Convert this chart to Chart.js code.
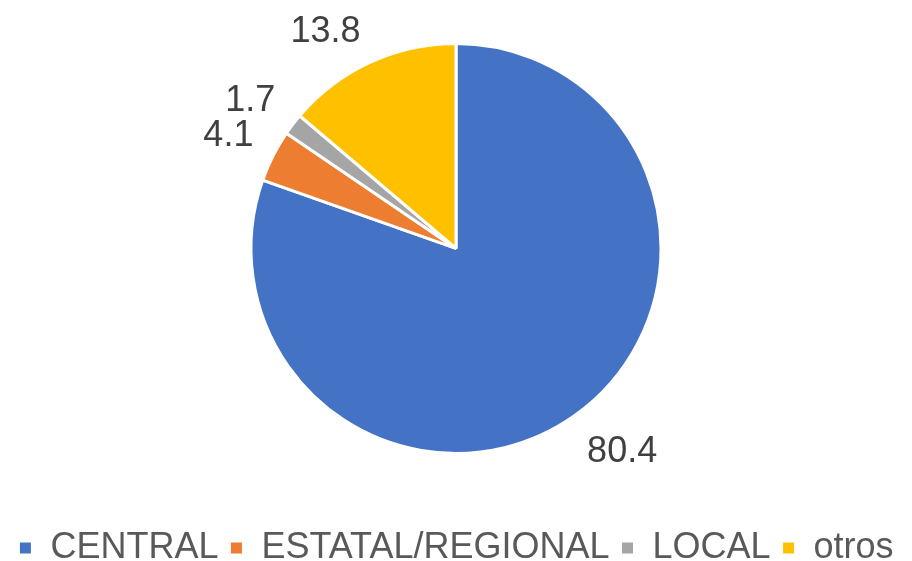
<!DOCTYPE html>
<html>
<head>
<meta charset="utf-8">
<script src="https://cdn.jsdelivr.net/npm/chart.js@4.4.1/dist/chart.umd.min.js"></script>
<style>
html,body{margin:0;padding:0;background:#fff;}
#wrap{width:912px;height:561px;position:relative;}
</style>
</head>
<body>
<div id="wrap"><canvas id="c" width="912" height="561"></canvas></div>
<script>
const categories = ["CENTRAL", "ESTATAL/REGIONAL", "LOCAL", "otros"];
const values = [80.4, 4.1, 1.7, 13.8];
const valueLabels = ["80.4", "4.1", "1.7", "13.8"];
const colors = ["#4472C4", "#ED7D31", "#A5A5A5", "#FFC000"];

const outsideLabels = {
  id: 'outsideLabels',
  afterDatasetsDraw(chart) {
    const ctx = chart.ctx;
    const meta = chart.getDatasetMeta(0);
    ctx.save();
    ctx.font = '36px "Liberation Sans", Arial, sans-serif';
    ctx.fillStyle = '#404040';
    ctx.textAlign = 'center';
    ctx.textBaseline = 'middle';
    meta.data.forEach((arc, i) => {
      const p = arc.getProps(['x','y','startAngle','endAngle','outerRadius'], true);
      const mid = (p.startAngle + p.endAngle) / 2;
      const c = Math.cos(mid), s = Math.sin(mid);
      const txt = valueLabels[i];
      const w = ctx.measureText(txt).width;
      const h = 28;
      const r = p.outerRadius + 22;
      const x = p.x + r * c + Math.sign(c) * w / 2;
      const y = p.y + r * s + Math.sign(s) * h / 2 + 4;
      ctx.fillText(txt, x, y);
    });
    ctx.restore();
  }
};

new Chart(document.getElementById('c'), {
  type: 'pie',
  data: {
    labels: categories,
    datasets: [{
      data: values,
      backgroundColor: colors,
      borderColor: '#ffffff',
      borderWidth: 3,
      radius: 205
    }]
  },
  options: {
    responsive: false,
    animation: false,
    layout: { padding: { top: 0, bottom: -15, left: 0, right: 0 } },
    plugins: {
      tooltip: { enabled: false },
      legend: {
        position: 'bottom',
        title: {
          display: true,
          text: ' ',
          font: { size: 1 },
          padding: { top: 0, bottom: 21 }
        },
        labels: {
          boxWidth: 14,
          boxHeight: 14,
          padding: 11,
          color: '#595959',
          font: { size: 36, family: '"Liberation Sans", Arial, sans-serif' }
        }
      }
    }
  },
  plugins: [outsideLabels]
});
</script>
</body>
</html>
